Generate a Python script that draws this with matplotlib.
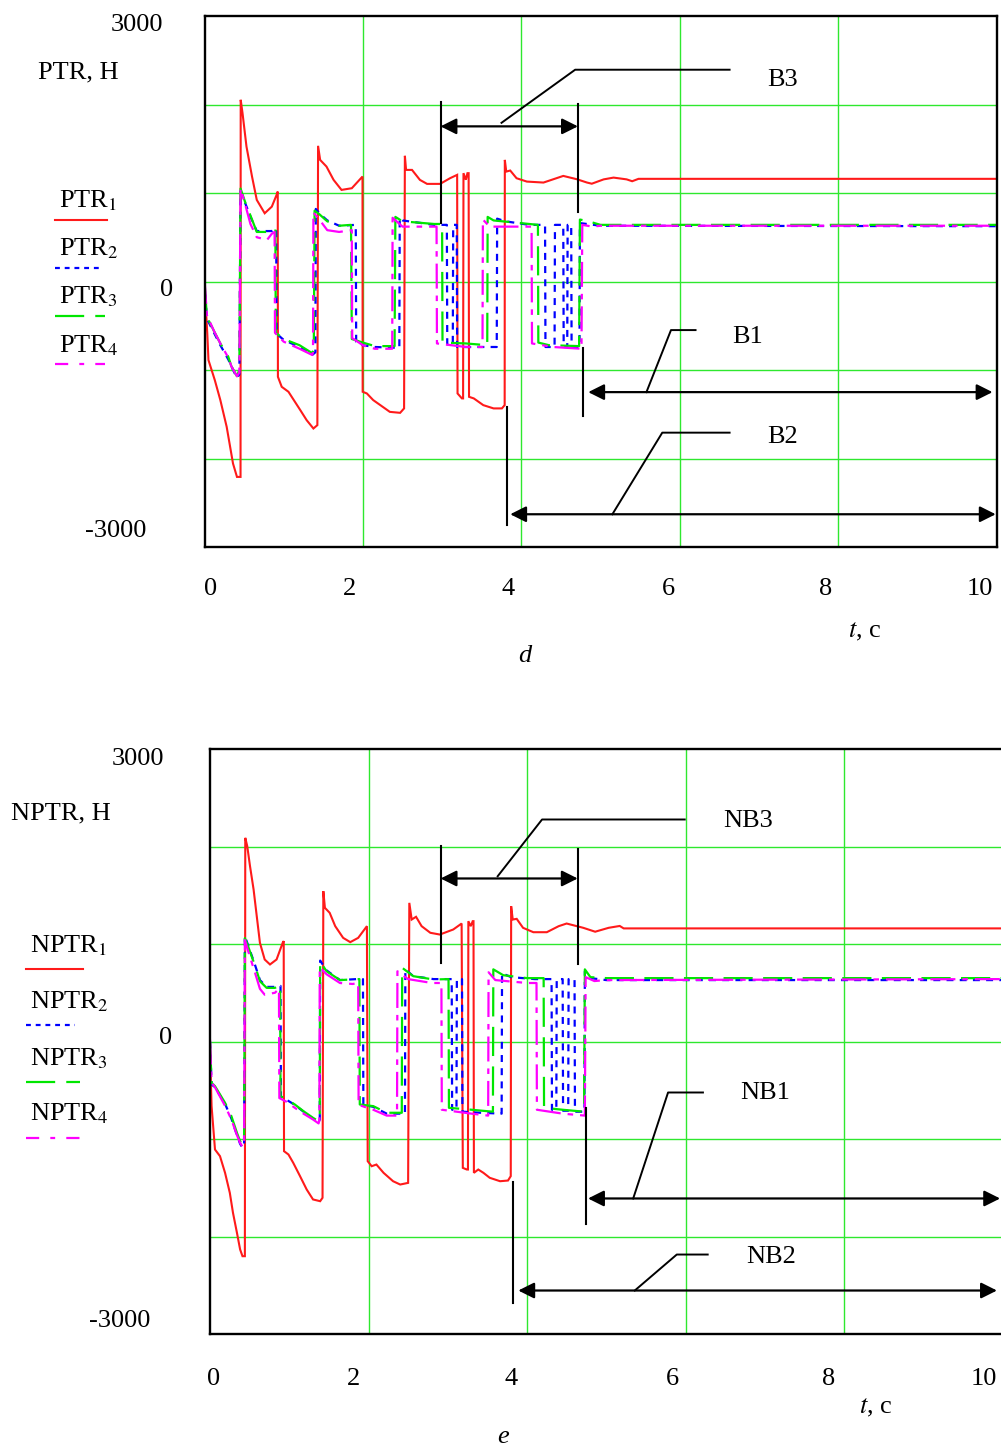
"""
Two stacked Mathcad-style time plots: PTR (panel d) and NPTR (panel e).
"""
import numpy as np
import matplotlib
matplotlib.use('Agg')
import matplotlib.pyplot as plt
from matplotlib.lines import Line2D

W, H = 1001, 1446

# ---- data: (t, value) vertices ----
ptr1 = [(0.0, -100), (0.01, -190), (0.035, -586), (0.05, -888), (0.13, -1114), (0.2, -1340),
        (0.28, -1642), (0.36, -2057), (0.41, -2208), (0.455, -2208), (0.457, 2053), (0.48, 1903),
        (0.53, 1525), (0.6, 1186), (0.66, 922), (0.76, 771), (0.85, 846), (0.91, 978),
        (0.925, 1016), (0.927, -1077), (0.975, -1190), (1.06, -1246), (1.21, -1454), (1.29, -1567),
        (1.375, -1661), (1.425, -1623), (1.434, 1533), (1.46, 1374), (1.54, 1299), (1.63, 1148),
        (1.73, 1035), (1.86, 1054), (1.995, 1186), (1.997, -1246), (2.05, -1265), (2.13, -1340),
        (2.34, -1473), (2.47, -1484), (2.52, -1434), (2.53, 1420), (2.545, 1261), (2.62, 1261),
        (2.72, 1148), (2.81, 1103), (2.975, 1103), (3.10, 1167), (3.19, 1205), (3.195, -1265),
        (3.25, -1321), (3.265, -1321), (3.27, 1224), (3.30, 1150), (3.32, 1224), (3.335, 1224),
        (3.34, -1303), (3.40, -1321), (3.52, -1397), (3.65, -1434), (3.755, -1434), (3.79, -1397),
        (3.792, 1374), (3.81, 1242), (3.86, 1254), (3.94, 1167), (4.07, 1129), (4.28, 1118),
        (4.53, 1193), (4.70, 1156), (4.83, 1118), (4.89, 1105), (5.04, 1154), (5.165, 1174),
        (5.33, 1154), (5.40, 1133), (5.48, 1160), (10.0, 1160)]

ptr2 = [(0, 0), (0.03, -420), (0.12, -580), (0.2, -720), (0.3, -880), (0.34, -960), (0.41, -1090),
        (0.44, -1050), (0.455, 1020), (0.52, 870), (0.6, 690), (0.66, 570), (0.85, 570),
        (0.905, 600), (0.91, -590), (1.0, -660), (1.2, -740), (1.36, -830), (1.40, -800),
        (1.405, 820), (1.45, 770), (1.55, 690), (1.7, 630), (1.91, 640), (1.915, -680),
        (2.0, -720), (2.15, -740), (2.46, -750), (2.465, 720), (2.5, 690), (2.9, 640),
        (3.06, 640), (3.065, -710), (3.135, -710), (3.14, 640), (3.185, 640), (3.19, -740),
        (3.69, -740), (3.695, 710), (3.8, 680), (4.1, 640), (4.30, 640), (4.305, -740),
        (4.42, -740), (4.425, 640), (4.53, 640), (4.535, -740), (4.58, -740), (4.585, 640),
        (4.63, 640), (4.635, -740), (4.735, -740), (4.74, 660), (5.0, 630), (10, 625)]

ptr3 = [(0, 0), (0.03, -400), (0.12, -560), (0.2, -700), (0.3, -850), (0.34, -960), (0.41, -1070),
        (0.44, -1000), (0.455, 1050), (0.52, 880), (0.6, 700), (0.66, 560), (0.85, 560),
        (0.895, 590), (0.90, -580), (1.0, -650), (1.2, -720), (1.36, -810), (1.38, -760),
        (1.39, 800), (1.45, 760), (1.55, 680), (1.7, 630), (1.85, 640), (1.86, -650),
        (2.0, -690), (2.15, -730), (2.40, -730), (2.41, 730), (2.5, 680), (2.9, 650),
        (3.0, 650), (3.005, -690), (3.3, -700), (3.57, -720), (3.575, 730), (3.65, 690),
        (4.1, 650), (4.21, 640), (4.215, -690), (4.35, -720), (4.73, -730), (4.74, 700),
        (4.85, 680), (5.0, 640), (10, 640)]

ptr4 = [(0, 30), (0.03, -380), (0.12, -560), (0.2, -700), (0.3, -860), (0.34, -960), (0.41, -1070),
        (0.44, -1030), (0.455, 1050), (0.52, 850), (0.58, 650), (0.66, 500), (0.79, 470),
        (0.85, 540), (0.885, 560), (0.89, -580), (1.0, -680), (1.2, -760), (1.36, -830),
        (1.37, -800), (1.375, 780), (1.45, 700), (1.55, 580), (1.7, 560), (1.86, 580),
        (1.865, -640), (2.0, -720), (2.15, -760), (2.37, -760), (2.375, 720), (2.5, 620),
        (2.93, 620), (2.935, -700), (3.3, -740), (3.51, -740), (3.515, 700), (3.6, 620),
        (4.13, 620), (4.135, -700), (4.4, -740), (4.76, -760), (4.77, 640), (4.9, 620),
        (5.0, 630), (10, 630)]

nptr1 = [(0, -100), (0.02, -663), (0.063, -1108), (0.126, -1176), (0.19, -1347), (0.25, -1552),
         (0.29, -1757), (0.34, -1962), (0.38, -2133), (0.41, -2202), (0.44, -2202), (0.445, 2089),
         (0.47, 2003), (0.505, 1798), (0.55, 1559), (0.59, 1285), (0.63, 1012), (0.69, 841),
         (0.757, 790), (0.84, 841), (0.917, 1012), (0.93, 1030), (0.934, -1125), (0.99, -1159),
         (1.05, -1244), (1.136, -1381), (1.22, -1518), (1.30, -1620), (1.39, -1638), (1.42, -1603),
         (1.43, 1542), (1.45, 1371), (1.51, 1320), (1.58, 1183), (1.68, 1063), (1.77, 1019),
         (1.87, 1063), (1.98, 1183), (1.99, -1228), (2.04, -1279), (2.10, -1262), (2.19, -1347),
         (2.31, -1433), (2.40, -1467), (2.50, -1450), (2.515, 1422), (2.545, 1251), (2.6, 1279),
         (2.67, 1183), (2.78, 1115), (2.90, 1097), (3.07, 1149), (3.175, 1210), (3.19, -1296),
         (3.24, -1313), (3.255, -1313), (3.26, 1234), (3.29, 1183), (3.315, 1234), (3.325, 1234),
         (3.33, -1347), (3.385, -1313), (3.45, -1347), (3.53, -1398), (3.66, -1433), (3.76, -1426),
         (3.795, -1381), (3.80, 1388), (3.82, 1251), (3.87, 1258), (3.95, 1166), (4.08, 1121),
         (4.25, 1121), (4.40, 1183), (4.50, 1210), (4.71, 1166), (4.86, 1126), (5.03, 1166),
         (5.17, 1185), (5.22, 1160), (10, 1160)]

nptr2 = [(0, 0), (0.02, -440), (0.063, -470), (0.19, -640), (0.27, -790), (0.34, -960), (0.38, -1050),
         (0.41, -1090), (0.43, -1050), (0.44, 1080), (0.48, 990), (0.57, 780), (0.63, 630),
         (0.715, 560), (0.82, 560), (0.89, 570), (0.895, -570), (0.97, -600), (1.07, -650),
         (1.18, -720), (1.30, -790), (1.37, -830), (1.385, -800), (1.39, 830), (1.47, 730),
         (1.64, 630), (1.85, 640), (1.93, 640), (1.935, -650), (2.06, -670), (2.23, -740),
         (2.46, -740), (2.465, 740), (2.565, 670), (2.82, 640), (3.05, 640), (3.055, -700),
         (3.11, -700), (3.115, 640), (3.18, 640), (3.185, -720), (3.4, -730), (3.68, -740),
         (3.685, 700), (3.8, 660), (4.1, 640), (4.31, 640), (4.315, -700), (4.37, -700),
         (4.375, 640), (4.45, 640), (4.455, -710), (4.52, -710), (4.525, 640), (4.60, 640),
         (4.605, -720), (4.725, -720), (4.73, 720), (4.8, 650), (5.0, 630), (10, 630)]

nptr3 = [(0, 0), (0.02, -424), (0.063, -458), (0.19, -629), (0.27, -766), (0.34, -937), (0.38, -1022),
         (0.41, -1074), (0.43, -1020), (0.44, 1060), (0.48, 978), (0.57, 772), (0.63, 618),
         (0.715, 550), (0.82, 550), (0.885, 580), (0.89, -561), (0.97, -595), (1.07, -646),
         (1.18, -715), (1.30, -783), (1.37, -817), (1.385, -780), (1.39, 820), (1.47, 721),
         (1.64, 630), (1.885, 640), (1.89, -646), (2.06, -663), (2.23, -731), (2.42, -731),
         (2.425, 756), (2.565, 670), (2.82, 636), (3.01, 640), (3.015, -680), (3.3, -700),
         (3.57, -720), (3.575, 740), (3.7, 680), (4.0, 650), (4.21, 650), (4.215, -680),
         (4.45, -700), (4.72, -720), (4.73, 740), (4.8, 660), (5.0, 650), (10, 650)]

nptr4 = [(0, 20), (0.02, -420), (0.063, -470), (0.19, -660), (0.27, -800), (0.34, -960), (0.38, -1040),
         (0.41, -1080), (0.43, -1040), (0.44, 1040), (0.48, 930), (0.57, 700), (0.63, 540),
         (0.69, 480), (0.82, 500), (0.87, 540), (0.875, -580), (0.97, -620), (1.07, -680),
         (1.18, -740), (1.30, -800), (1.37, -840), (1.38, -810), (1.385, 760), (1.47, 690),
         (1.64, 600), (1.80, 590), (1.87, 600), (1.875, -650), (2.06, -700), (2.23, -760),
         (2.36, -760), (2.365, 720), (2.5, 640), (2.8, 600), (2.92, 600), (2.925, -700),
         (3.3, -740), (3.51, -760), (3.515, 710), (3.6, 630), (4.0, 600), (4.12, 600),
         (4.125, -700), (4.45, -740), (4.73, -760), (4.74, 660), (4.85, 620), (5.0, 630),
         (10, 640)]

t_ticks = [0, 2, 4, 6, 8, 10]
top_names = ['PTR$_1$', 'PTR$_2$', 'PTR$_3$', 'PTR$_4$']
bot_names = ['NPTR$_1$', 'NPTR$_2$', 'NPTR$_3$', 'NPTR$_4$']

# ---- styles ----
plt.rcParams['font.family'] = ['Liberation Serif', 'DejaVu Serif']
plt.rcParams['mathtext.fontset'] = 'stix'
plt.rcParams['lines.scale_dashes'] = False
FS = 19

STYLES = [dict(color='#ff1a1a', lw=1.5, ls='-'),
          dict(color='#0000ff', lw=1.6, dashes=(5, 4.5)),
          dict(color='#00e600', lw=1.6, dashes=(21, 7.5)),
          dict(color='#ff00ff', lw=1.6, dashes=(18, 5, 4, 5))]
LEG_DASH = [None, (3.5, 3.5), (21, 8), (9.5, 8, 3.5, 8)]
GRID = '#2ee82e'


def px(x, y):
    return x / W, 1 - y / H


def ftext(fig, x, y, s, **kw):
    fig.text(*px(x, y), s, fontsize=FS, **kw)


def setup_axes(ax):
    ax.set_xlim(0, 10)
    ax.set_ylim(-3000, 3000)
    ax.set_xticks([2, 4, 6, 8])
    ax.set_yticks([-2000, -1000, 0, 1000, 2000])
    ax.tick_params(length=0, labelbottom=False, labelleft=False)
    ax.grid(True, color=GRID, lw=1.0)
    for s in ax.spines.values():
        s.set_linewidth(1.7)
        s.set_color('black')
        s.set_zorder(5)


def plot_series(ax, series):
    for data, st in zip(series, STYLES):
        t, v = np.array(data, dtype=float).T
        ax.plot(t, v, solid_joinstyle='miter', **st)


def annotate(ax, vlines, arrows, leaders, labels):
    for t, v0, v1 in vlines:
        ax.plot([t, t], [v0, v1], color='k', lw=1.5, zorder=6)
    for a, b in arrows:
        ax.annotate('', xy=b, xytext=a,
                    arrowprops=dict(arrowstyle='<|-|>', color='k', lw=1.6,
                                    mutation_scale=24, shrinkA=0, shrinkB=0),
                    zorder=6)
    for pts in leaders:
        t, v = zip(*pts)
        ax.plot(t, v, color='k', lw=1.4, zorder=6)
    for s, t, v in labels:
        ax.text(t, v, s, fontsize=FS, ha='left', va='baseline', zorder=7)


def legend(fig, names, x_text, baselines, x0, x1s, ys):
    for i, name in enumerate(names):
        ftext(fig, x_text, baselines[i], name, ha='left', va='baseline')
        st = STYLES[i]
        kw = dict(color=st['color'], lw=st['lw'])
        if LEG_DASH[i] is not None:
            kw['dashes'] = LEG_DASH[i]
        (fx0, fy), (fx1, _) = px(x0, ys[i]), px(x1s[i], ys[i])
        fig.add_artist(Line2D([fx0, fx1], [fy, fy], transform=fig.transFigure, **kw))


def main():
    fig = plt.figure(figsize=(W / 100, H / 100), dpi=100)

    # ---- panel d ----
    ax1 = fig.add_axes([204.5 / W, 1 - 547 / H, 792 / W, 531 / H])
    setup_axes(ax1)
    plot_series(ax1, [ptr1, ptr2, ptr3, ptr4])
    annotate(ax1,
             vlines=[(2.98, 2031, 662), (4.715, 2008, 786), (4.78, -752, -1521), (3.82, -1420, -2755)],
             arrows=[((2.98, 1753), (4.715, 1753)), ((4.845, -1250), (9.95, -1250)),
                     ((3.86, -2630), (9.99, -2630))],
             leaders=[[(3.75, 1793), (4.68, 2393), (6.63, 2393)],
                      [(5.58, -1250), (5.89, -549), (6.20, -549)],
                      [(5.15, -2630), (5.78, -1708), (6.63, -1708)]],
             labels=[('B3', 7.11, 2212), ('B1', 6.66, -693), ('B2', 7.11, -1827)])

    ftext(fig, 163, 31, '3000', ha='right', va='baseline')
    ftext(fig, 38, 78, 'PTR, H', ha='left', va='baseline')
    ftext(fig, 167, 296, '0', ha='center', va='baseline')
    ftext(fig, 146, 537, '-3000', ha='right', va='baseline')
    for lab, x in zip(t_ticks, [211, 350, 508, 668, 825.5, 980]):
        ftext(fig, x, 595, str(lab), ha='center', va='baseline')
    ftext(fig, 848, 637, '$t$, c', ha='left', va='baseline')
    ftext(fig, 525, 662, 'd', ha='center', va='baseline', style='italic')
    legend(fig, top_names, 59, [207, 255, 303, 352], 55, [107, 100, 105, 105], [220, 268, 316, 364])

    # ---- panel e ----
    ax2 = fig.add_axes([210 / W, 1 - 1334 / H, 792.5 / W, 585 / H])
    setup_axes(ax2)
    plot_series(ax2, [nptr1, nptr2, nptr3, nptr4])
    annotate(ax2,
             vlines=[(2.91, 2003, 810), (4.64, 1979, 800), (4.74, -687, -1867), (3.82, -1446, -2677)],
             arrows=[((2.91, 1672), (4.64, 1672)), ((4.77, -1610), (9.97, -1610)),
                     ((3.89, -2554), (9.93, -2554))],
             leaders=[[(3.63, 1695), (4.19, 2277), (5.99, 2277)],
                      [(5.34, -1610), (5.78, -523), (6.22, -523)],
                      [(5.36, -2554), (5.89, -2185), (6.28, -2185)]],
             labels=[('NB3', 6.47, 2198), ('NB1', 6.69, -591), ('NB2', 6.76, -2267)])

    ftext(fig, 164, 765, '3000', ha='right', va='baseline')
    ftext(fig, 11, 819, 'NPTR, H', ha='left', va='baseline')
    ftext(fig, 166, 1044, '0', ha='center', va='baseline')
    ftext(fig, 150, 1327, '-3000', ha='right', va='baseline')
    for lab, x in zip(t_ticks, [214, 354, 511, 672, 829, 984]):
        ftext(fig, x, 1385, str(lab), ha='center', va='baseline')
    ftext(fig, 859, 1413, '$t$, c', ha='left', va='baseline')
    ftext(fig, 503, 1443, 'e', ha='center', va='baseline', style='italic')
    legend(fig, bot_names, 30, [952, 1008, 1065, 1120], 26, [83, 75, 80, 80], [969, 1025, 1082, 1138])

    fig.savefig('out.png', dpi=100)


if __name__ == "__main__":
    main()
